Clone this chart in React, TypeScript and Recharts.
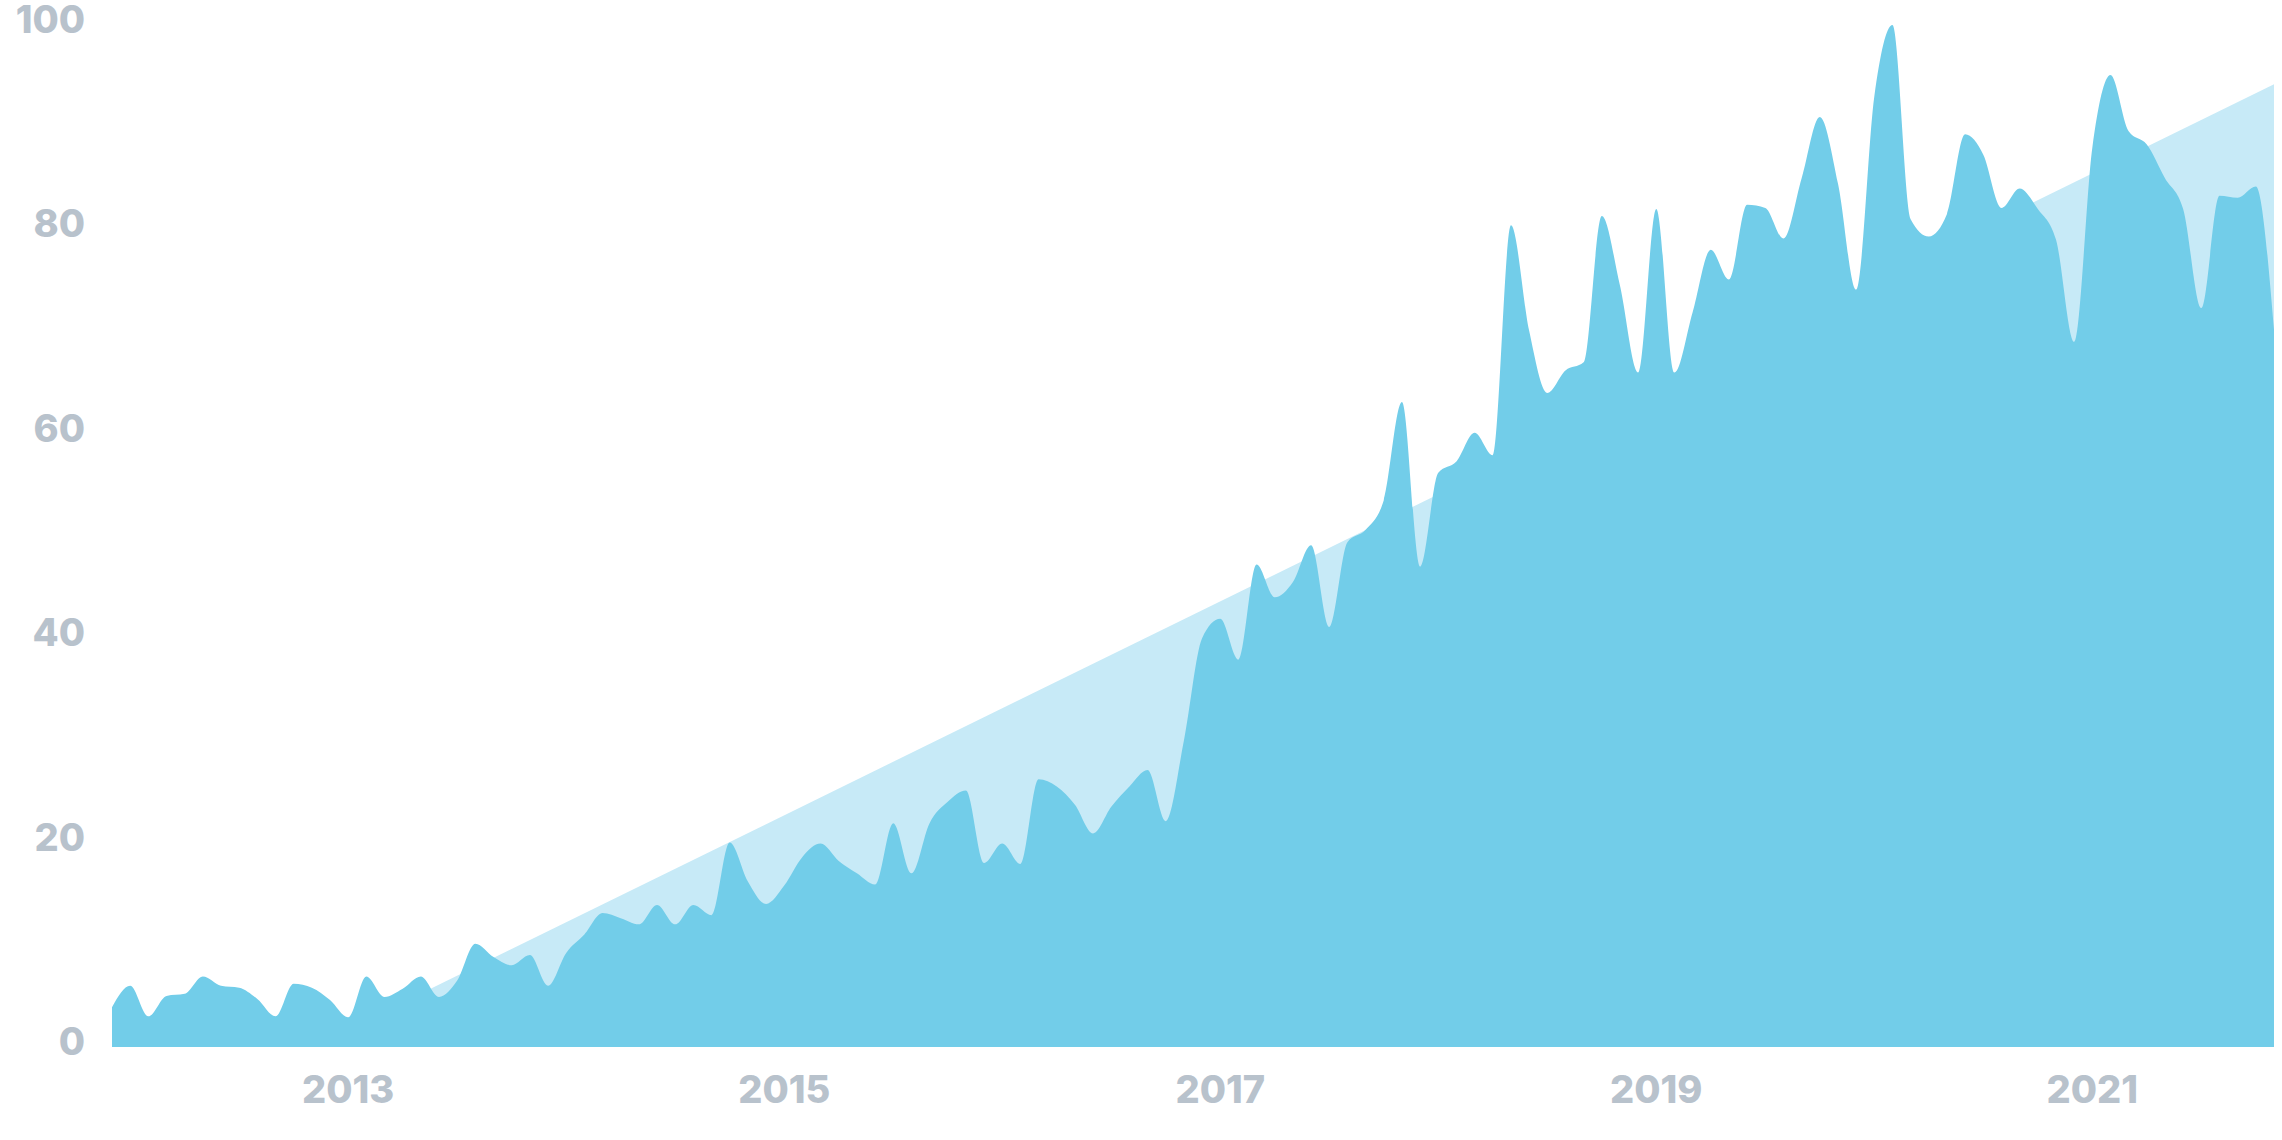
import { Area, AreaChart, XAxis, YAxis } from "recharts";

// Monthly search interest, Dec 2011 – Nov 2021 (0–100 scale).
const months = [
  "2011-12",
  "2012-01", "2012-02", "2012-03", "2012-04", "2012-05", "2012-06", "2012-07", "2012-08", "2012-09", "2012-10", "2012-11", "2012-12",
  "2013-01", "2013-02", "2013-03", "2013-04", "2013-05", "2013-06", "2013-07", "2013-08", "2013-09", "2013-10", "2013-11", "2013-12",
  "2014-01", "2014-02", "2014-03", "2014-04", "2014-05", "2014-06", "2014-07", "2014-08", "2014-09", "2014-10", "2014-11", "2014-12",
  "2015-01", "2015-02", "2015-03", "2015-04", "2015-05", "2015-06", "2015-07", "2015-08", "2015-09", "2015-10", "2015-11", "2015-12",
  "2016-01", "2016-02", "2016-03", "2016-04", "2016-05", "2016-06", "2016-07", "2016-08", "2016-09", "2016-10", "2016-11", "2016-12",
  "2017-01", "2017-02", "2017-03", "2017-04", "2017-05", "2017-06", "2017-07", "2017-08", "2017-09", "2017-10", "2017-11", "2017-12",
  "2018-01", "2018-02", "2018-03", "2018-04", "2018-05", "2018-06", "2018-07", "2018-08", "2018-09", "2018-10", "2018-11", "2018-12",
  "2019-01", "2019-02", "2019-03", "2019-04", "2019-05", "2019-06", "2019-07", "2019-08", "2019-09", "2019-10", "2019-11", "2019-12",
  "2020-01", "2020-02", "2020-03", "2020-04", "2020-05", "2020-06", "2020-07", "2020-08", "2020-09", "2020-10", "2020-11", "2020-12",
  "2021-01", "2021-02", "2021-03", "2021-04", "2021-05", "2021-06", "2021-07", "2021-08", "2021-09", "2021-10", "2021-11",
];

const interest = [
  3.9,
  6.0, 3.0, 5.0, 5.2, 6.9, 6.0, 5.8, 4.7, 3.0, 6.2, 5.8, 4.6,
  2.9, 6.9, 4.9, 5.7, 6.9, 4.9, 6.5, 10.1, 8.8, 8.0, 9.0, 6.0,
  9.2, 11.0, 13.1, 12.6, 12.0, 13.9, 12.0, 13.9, 12.9, 20.0, 16.2, 14.0,
  15.8, 18.6, 19.9, 18.2, 17.0, 15.9, 21.9, 17.0, 21.9, 24.0, 25.1, 18.0,
  19.9, 17.9, 26.2, 25.5, 23.7, 20.9, 23.5, 25.5, 27.1, 22.1, 30.0, 40.0,
  41.9, 37.9, 47.2, 44.0, 45.5, 49.1, 41.1, 49.4, 50.6, 53.5, 63.1, 47.0,
  56.2, 57.3, 60.1, 57.9, 80.4, 70.1, 64.0, 66.2, 67.0, 81.3, 74.5, 66.0,
  82.0, 66.0, 71.9, 78.0, 75.1, 82.4, 82.1, 79.1, 85.0, 91.0, 84.5, 74.1,
  93.0, 100, 81.0, 79.3, 81.5, 89.3, 87.3, 82.1, 84.0, 82.0, 79.0, 69.0,
  88.0, 95.1, 89.6, 88.3, 85.0, 82.0, 72.3, 83.3, 83.1, 84.2, 70.2,
];

// Straight trend line: only its two end points.
const trendMonths = ["2012-11", "2021-11"];
const trendValues = [0, 94.2];

const yearTicks = ["2013-01", "2015-01", "2017-01", "2019-01", "2021-01"];
const valueTicks = [0, 20, 40, 60, 80, 100];

const data = months.map((month, i) => {
  const t = trendMonths.indexOf(month);
  return { idx: i, month, interest: interest[i], trend: t >= 0 ? trendValues[t] : null };
});

const tickIdx = yearTicks.map((m) => months.indexOf(m));

const labelStyle = {
  fontFamily: "Inter, Lato, sans-serif",
  fontWeight: 800,
  fontSize: 38,
  fill: "#B8C2CC",
};

function YTick({ x, y, payload }: { x?: number; y?: number; payload?: { value: number } }) {
  return (
    <text x={x} y={(y ?? 0) + 8} textAnchor="end" {...labelStyle}>
      {payload?.value}
    </text>
  );
}

function XTick({ x, y, payload }: { x?: number; y?: number; payload?: { value: number } }) {
  const m = months[payload?.value ?? 0] ?? "";
  return (
    <text x={x} y={(y ?? 0) + 48} textAnchor="middle" {...labelStyle}>
      {m.slice(0, 4)}
    </text>
  );
}

export default function App() {
  return (
    <div style={{ position: "absolute", left: 0, top: 0, background: "#fff" }}>
      <AreaChart width={2282} height={1140} data={data} margin={{ top: 25, right: 8, bottom: 0, left: 0 }}>
        <XAxis
          dataKey="idx"
          type="number"
          domain={[0, months.length - 1]}
          ticks={tickIdx}
          tick={<XTick />}
          axisLine={false}
          tickLine={false}
          height={93}
          interval={0}
        />
        <YAxis
          domain={[0, 100]}
          ticks={valueTicks}
          tick={<YTick />}
          axisLine={false}
          tickLine={false}
          tickMargin={21}
          width={112}
          interval={0}
        />
        <Area
          dataKey="trend"
          type="linear"
          connectNulls
          stroke="none"
          fill="#C7EAF7"
          fillOpacity={1}
          isAnimationActive={false}
        />
        <Area
          dataKey="interest"
          type="monotone"
          stroke="none"
          fill="#72CDE9"
          fillOpacity={1}
          isAnimationActive={false}
        />
      </AreaChart>
    </div>
  );
}
